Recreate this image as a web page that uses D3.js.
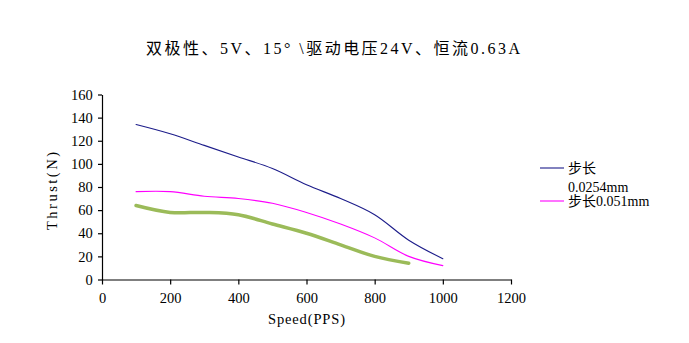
<!DOCTYPE html>
<html><head><meta charset="utf-8">
<script src="https://cdn.jsdelivr.net/npm/d3@7"></script>
<style>body{margin:0;background:#fff;} svg{display:block;}</style>
</head><body>
<svg id="c" width="689" height="343"></svg>
<script>
const title = "双极性、5V、15° \\驱动电压24V、恒流0.63A";
const speed1 = [100,200,300,400,500,600,700,800,900,1000];
const thrust1 = [134,126,116,106,96,82,70,56,34,18];
const speed2 = [100,200,300,400,500,600,700,800,900,1000];
const thrust2 = [76,76,72,70,66,58,48,36,20,12];
const speed3 = [100,200,300,400,500,600,700,800,900];
const thrust3 = [64,58,58,56,48,40,30,20,14];
const xTicks = [0,200,400,600,800,1000,1200];
const yTicks = [0,20,40,60,80,100,120,140,160];
const legendNames = [["步长","0.0254mm"],["步长0.051mm"]];

const svg = d3.select("#c");
const font = "'Liberation Serif','Noto Sans CJK SC',serif";
const x = d3.scaleLinear().domain([0,1200]).range([102,511]);
const y = d3.scaleLinear().domain([0,160]).range([279.5,94.5]);

svg.append("text").attr("x",146).attr("y",54)
  .attr("font-family",font).attr("font-size",16).attr("fill","#000")
  .attr("textLength",374).attr("lengthAdjust","spacing").text(title);

const xa = svg.append("g").attr("transform","translate(0,279.5)")
  .call(d3.axisBottom(x).tickValues(xTicks).tickFormat(d3.format("d")).tickSize(5).tickSizeOuter(0));
const ya = svg.append("g").attr("transform","translate(102,0)")
  .call(d3.axisLeft(y).tickValues(yTicks).tickFormat(d3.format("d")).tickSize(4).tickSizeOuter(0));
[xa,ya].forEach(a=>{
  a.selectAll("path,line").attr("stroke","#000").attr("stroke-width",1.2);
  a.selectAll("text").attr("font-family",font).attr("font-size",14.5).attr("fill","#000");
});
xa.selectAll("text").attr("dy","1.05em");
ya.selectAll("text").attr("dx","-0.15em");

svg.append("text").attr("x",268).attr("y",324)
  .attr("font-family",font).attr("font-size",14.5)
  .attr("textLength",77).attr("lengthAdjust","spacing").text("Speed(PPS)");
svg.append("text").attr("transform","translate(57,230) rotate(-90)")
  .attr("font-family",font).attr("font-size",14.5)
  .attr("textLength",78).attr("lengthAdjust","spacing").text("Thrust(N)");

const line = d3.line().x(d=>x(d[0])).y(d=>y(d[1])).curve(d3.curveCatmullRom.alpha(0.5));
const series = [
  {xs:speed1, ys:thrust1, color:"#1c1c8a", w:1.1},
  {xs:speed2, ys:thrust2, color:"#ff00ff", w:1.1},
  {xs:speed3, ys:thrust3, color:"#9bbb59", w:3.5}
];
series.forEach(s=>{
  svg.append("path").datum(s.xs.map((v,i)=>[v,s.ys[i]]))
    .attr("fill","none").attr("stroke",s.color).attr("stroke-width",s.w)
    .attr("stroke-linecap","round").attr("d",line);
});

const lg = svg.append("g");
const ly = [168,201];
legendNames.forEach((n,i)=>{
  lg.append("line").attr("x1",540).attr("x2",564).attr("y1",ly[i]).attr("y2",ly[i])
    .attr("stroke",series[i].color).attr("stroke-width",1.1);
  n.forEach((t,j)=>{
    lg.append("text").attr("x",568).attr("y",ly[i]+5+j*19)
      .attr("font-family",font).attr("font-size",14).text(t);
  });
});
</script>
</body></html>
